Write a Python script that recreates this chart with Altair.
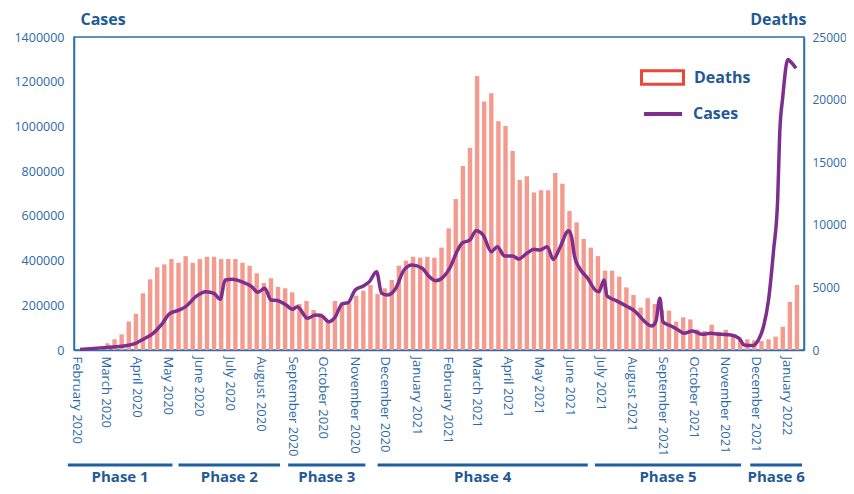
import altair as alt
import pandas as pd

FONT = "Open Sans"
AXIS_BLUE = "#2F6EAA"
LABEL_BLUE = "#2D69A6"
TITLE_BLUE = "#1F5A96"
BAR_COLOR = "#F59A8E"
LINE_COLOR = "#7E2F8E"
LEGEND_RED = "#E8473A"

# weekly bars (left axis scale)
bar_start = "2020-01-31"
bar_values = [
    0, 0, 2000, 6000, 30000, 48000, 70000, 127000, 162000, 254000,
    316000, 370000, 383000, 407000, 390000, 420000, 390000, 407000, 417000, 417000,
    407000, 407000, 407000, 390000, 377000, 343000, 300000, 321000, 283000, 276000,
    258000, 206000, 219000, 179000, 164000, 134000, 219000, 212000, 209000, 243000,
    265000, 291000, 250000, 276000, 313000, 377000, 400000, 417000, 413000, 417000,
    413000, 458000, 544000, 675000, 823000, 904000, 1226000, 1112000, 1148000, 1023000,
    1002000, 890000, 760000, 777000, 705000, 714000, 714000, 792000, 744000, 622000,
    571000, 497000, 458000, 420000, 355000, 355000, 328000, 280000, 246000, 190000,
    232000, 206000, 180000, 176000, 127000, 146000, 137000, 92000, 85000, 113000,
    82000, 90000, 60000, 48000, 48000, 43000, 40000, 48000, 60000, 104000,
    215000, 291000,
]

# line (right axis scale)
line_dates = [
    "2020-02-01", "2020-02-28", "2020-03-15", "2020-03-28", "2020-04-03", "2020-04-13",
    "2020-04-21", "2020-04-29", "2020-05-09", "2020-05-15", "2020-05-25", "2020-06-04",
    "2020-06-12", "2020-06-18", "2020-06-23", "2020-06-30", "2020-07-09", "2020-07-19",
    "2020-07-25", "2020-08-01", "2020-08-07", "2020-08-14", "2020-08-22", "2020-08-28",
    "2020-09-02", "2020-09-12", "2020-09-20", "2020-09-26", "2020-10-03", "2020-10-09",
    "2020-10-16", "2020-10-22", "2020-10-29", "2020-11-06", "2020-11-12", "2020-11-19",
    "2020-11-24", "2020-11-30", "2020-12-08", "2020-12-16", "2020-12-24", "2021-01-03",
    "2021-01-09", "2021-01-16", "2021-01-24", "2021-01-30", "2021-02-07", "2021-02-11",
    "2021-02-19", "2021-02-25", "2021-03-04", "2021-03-12", "2021-03-18", "2021-03-25",
    "2021-04-02", "2021-04-08", "2021-04-16", "2021-04-23", "2021-04-29", "2021-05-06",
    "2021-05-12", "2021-05-19", "2021-05-27", "2021-05-30", "2021-06-02", "2021-06-07",
    "2021-06-15", "2021-06-23", "2021-06-26", "2021-07-01", "2021-07-04", "2021-07-13",
    "2021-07-22", "2021-08-01", "2021-08-04", "2021-08-17", "2021-08-21", "2021-08-25",
    "2021-08-28", "2021-09-05", "2021-09-12", "2021-09-18", "2021-09-26", "2021-10-06",
    "2021-10-14", "2021-10-24", "2021-11-03", "2021-11-11", "2021-11-16", "2021-11-24",
    "2021-11-30", "2021-12-05", "2021-12-10", "2021-12-15", "2021-12-19", "2021-12-21",
    "2021-12-24", "2021-12-29", "2022-01-01", "2022-01-06",
]
line_values = [
    50, 210, 320, 580, 850, 1330,
    2000, 2880, 3200, 3460, 4260, 4660,
    4530, 4050, 5590, 5650, 5460, 5060,
    4610, 4930, 4000, 3940, 3590, 3250,
    3460, 2530, 2800, 2720, 2260, 2610,
    3670, 3780, 4790, 5110, 5460, 6260,
    4530, 4390, 4930, 6390, 6790, 6530,
    5940, 5540, 5860, 6530, 8000, 8520,
    8790, 9530, 9180, 7850, 8250, 7510,
    7510, 7270, 7720, 8040, 7990, 8250,
    7240, 8250, 9530, 9050, 7450, 6520,
    5720, 4740, 4660, 5590, 4310, 3940,
    3550, 3060, 2800, 1920, 2260, 4130,
    2260, 1920, 1600, 1330, 1520, 1250,
    1330, 1250, 1200, 930, 400, 350,
    800, 1860, 4000, 7990, 12000, 17300,
    20200, 23200, 23000, 22500,
]

phase_names = ["Phase 1", "Phase 2", "Phase 3", "Phase 4", "Phase 5", "Phase 6"]
phase_start = ["2020-01-20", "2020-05-08", "2020-08-24", "2020-11-20", "2021-06-22", "2021-11-22"]
phase_end = ["2020-05-02", "2020-08-16", "2020-11-08", "2021-06-15", "2021-11-13", "2022-01-12"]

left_ticks = [0, 200000, 400000, 600000, 800000, 1000000, 1200000, 1400000]
right_ticks = [0, 5000, 10000, 15000, 20000, 25000]

bars_df = pd.DataFrame({
    "date": pd.date_range(bar_start, periods=len(bar_values), freq="7D").strftime("%Y-%m-%d"),
    "value": bar_values,
    "series": "Deaths",
})
line_df = pd.DataFrame({"date": line_dates, "value": line_values, "series": "Cases"})
phase_df = pd.DataFrame({"phase": phase_names, "start": phase_start, "end": phase_end})

x_scale = alt.Scale(
    type="utc",
    domain=[alt.DateTime(year=2020, month=1, date=31, utc=True),
            alt.DateTime(year=2022, month=1, date=9, utc=True)],
)
x_axis = alt.Axis(
    title=None, format="%B %Y", labelAngle=90, labelAlign="left", labelBaseline="middle",
    ticks=False, grid=False, tickCount={"interval": "month", "step": 1},
    labelFont=FONT, labelFontSize=13, labelColor=LABEL_BLUE, labelPadding=6, labelOffset=-4,
    domainColor=AXIS_BLUE, domainWidth=1.5, labelOverlap=False,
)

bars = alt.Chart(bars_df).mark_bar(width=4.4, color=BAR_COLOR).encode(
    x=alt.X("date:T", scale=x_scale, axis=x_axis),
    y=alt.Y("value:Q", scale=alt.Scale(domain=[0, 1400000], nice=False),
            axis=alt.Axis(orient="left", values=left_ticks, format="d", ticks=False, grid=False,
                          labelFont=FONT, labelFontSize=12.5, labelColor=LABEL_BLUE, labelPadding=10,
                          domainColor=AXIS_BLUE, domainWidth=1.5,
                          title="Cases", titleAngle=0, titleAlign="left", titleBaseline="alphabetic",
                          titleX=6, titleY=-13, titleFont=FONT, titleFontSize=16,
                          titleFontWeight="bold", titleColor=TITLE_BLUE)),
)

legend_helper = alt.Chart(bars_df).transform_filter("false").mark_point(
    shape="M-1,-0.32H1V0.32H-1Z", filled=False, strokeWidth=3, size=1764, opacity=1
).encode(
    x=alt.X("date:T", scale=x_scale, axis=x_axis),
    y=alt.Y("value:Q"),
    stroke=alt.Stroke("series:N", scale=alt.Scale(domain=["Deaths"], range=[LEGEND_RED]),
                      legend=alt.Legend(title=None, orient="none", legendX=566, legendY=18,
                                        symbolType="M-1,-0.32H1V0.32H-1Z", symbolSize=1764,
                                        symbolStrokeWidth=3, labelFont=FONT, labelFontSize=16,
                                        labelFontWeight="bold", labelColor=TITLE_BLUE, labelOffset=9)),
)

line = alt.Chart(line_df).mark_line(interpolate="monotone", strokeWidth=3.5).encode(
    x=alt.X("date:T", scale=x_scale, axis=x_axis),
    y=alt.Y("value:Q", scale=alt.Scale(domain=[0, 25000], nice=False),
            axis=alt.Axis(orient="right", values=right_ticks, format="d", ticks=False, grid=False,
                          labelFont=FONT, labelFontSize=12, labelColor=LABEL_BLUE, labelPadding=8,
                          domainColor=AXIS_BLUE, domainWidth=1.5,
                          title="Deaths", titleAngle=0, titleAlign="right", titleBaseline="alphabetic",
                          titleX=2, titleY=-13, titleFont=FONT, titleFontSize=16,
                          titleFontWeight="bold", titleColor=TITLE_BLUE)),
    stroke=alt.Stroke("series:N", scale=alt.Scale(domain=["Cases"], range=[LINE_COLOR]),
                      legend=alt.Legend(title=None, orient="none", legendX=568, legendY=56,
                                        symbolType="stroke", symbolSize=1444, symbolStrokeWidth=4,
                                        labelFont=FONT, labelFontSize=16, labelFontWeight="bold",
                                        labelColor=TITLE_BLUE, labelOffset=9)),
)

phase_rules = alt.Chart(phase_df).mark_rule(strokeWidth=3, color="#1F5FA0").encode(
    x=alt.X("start:T", scale=x_scale, axis=x_axis),
    x2="end:T",
    y=alt.value(428),
)
phase_text = alt.Chart(phase_df).transform_calculate(
    mid="(toDate(datum.start) + toDate(datum.end)) / 2"
).mark_text(font=FONT, fontSize=15, fontWeight="bold", color=TITLE_BLUE, baseline="alphabetic").encode(
    x=alt.X("mid:T", scale=x_scale, axis=x_axis),
    y=alt.value(445),
    text="phase:N",
)

left_group = alt.layer(bars, legend_helper)
chart = alt.layer(left_group, line, phase_rules, phase_text).resolve_scale(
    y="independent", stroke="independent"
).properties(
    width=730, height=313,
    autosize=alt.AutoSizeParams(type="none"),
    padding={"left": 66, "top": 29, "right": 42, "bottom": 136},
).configure_view(stroke=AXIS_BLUE, strokeWidth=1.5)

chart.save("out.html", embed_options={"renderer": "svg", "actions": False})
